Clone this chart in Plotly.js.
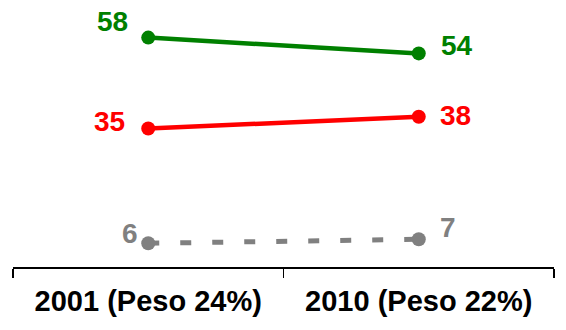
<!DOCTYPE html>
<html>
<head>
<meta charset="utf-8">
<script src="https://cdn.plot.ly/plotly-3.0.1.min.js"></script>
<style>html,body{margin:0;padding:0;background:#fff;}#chart{width:566px;height:330px;}</style>
</head>
<body>
<div id="chart"></div>
<script>
const categories = ["2001 (Peso 24%)", "2010 (Peso 22%)"];
const seriesGreen = [58, 54];
const seriesRed = [35, 38];
const seriesGray = [6, 7];

const colors = {green: "#008000", red: "#ff0000", gray: "#808080"};

function line(y, color, width, dash) {
  return {
    x: categories, y: y, type: "scatter", mode: "lines+markers",
    line: {color: color, width: width, dash: dash || "solid"},
    marker: {color: color, size: 14},
    hoverinfo: "skip", cliponaxis: false
  };
}

const data = [
  line(seriesGreen, colors.green, 4.5),
  line(seriesRed, colors.red, 4.5),
  line(seriesGray, colors.gray, 5, "11px,21px")
];

// label offsets [left point, right point] as [xshift, yshift]
const offsets = {
  green: [[-36, 16], [38, 8]],
  red: [[-39, 7], [37, 1]],
  gray: [[-18, 10], [29, 12]]
};

const annotations = [];
[[seriesGreen, "green"], [seriesRed, "red"], [seriesGray, "gray"]].forEach(([vals, key]) => {
  vals.forEach((v, i) => {
    annotations.push({
      x: categories[i], y: v, text: String(v), showarrow: false,
      xshift: offsets[key][i][0], yshift: offsets[key][i][1],
      font: {family: "Liberation Sans, Arial, sans-serif", size: 28, color: colors[key], weight: "bold"},
      xanchor: "center", yanchor: "middle"
    });
  });
});

const layout = {
  width: 566, height: 330,
  margin: {l: 13, r: 12, t: 0, b: 63},
  paper_bgcolor: "#fff", plot_bgcolor: "#fff",
  showlegend: false,
  xaxis: {
    type: "category", range: [-0.5, 1.5],
    showline: true, linecolor: "#000", linewidth: 1.5,
    ticks: "outside", tickson: "boundaries", ticklen: 9, tickwidth: 1.5, tickcolor: "#000",
    ticklabelstandoff: 8,
    showgrid: false, zeroline: false,
    tickfont: {family: "Liberation Sans, Arial, sans-serif", size: 29, color: "#000", weight: "bold"}
  },
  yaxis: {range: [0, 67.5], visible: false, fixedrange: true},
  annotations: annotations
};

Plotly.newPlot("chart", data, layout, {displayModeBar: false, staticPlot: true});
</script>
</body>
</html>
